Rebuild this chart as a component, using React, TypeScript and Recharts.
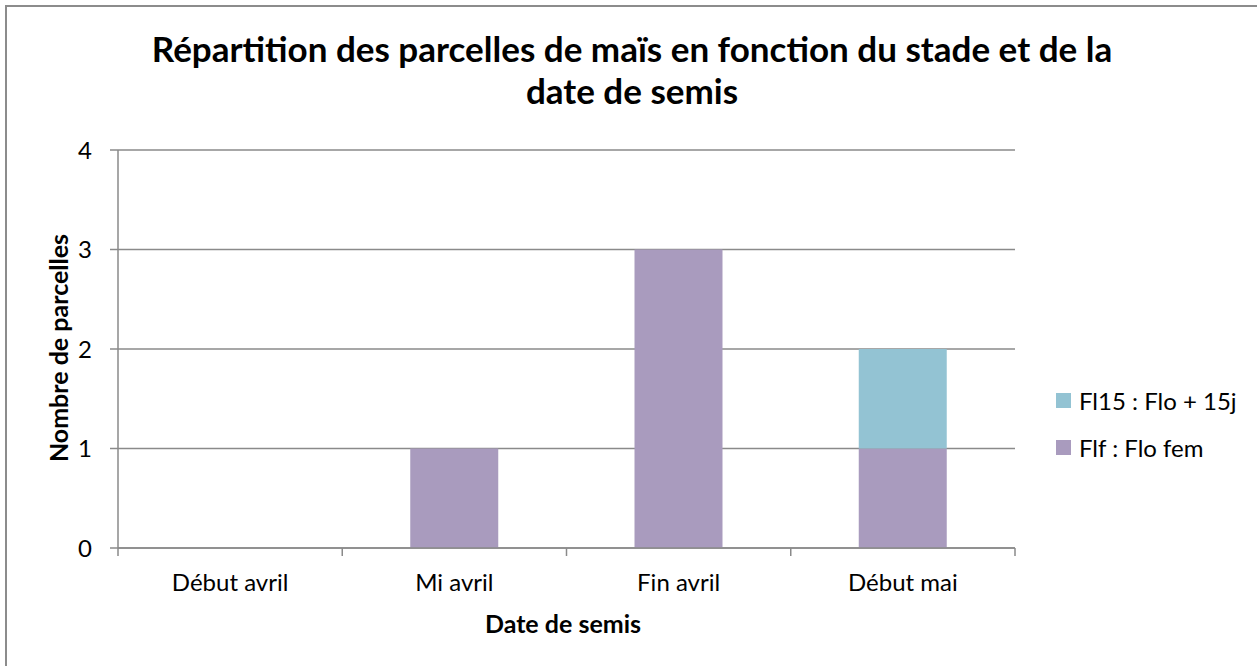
import { BarChart, Bar, XAxis, YAxis, CartesianGrid } from "recharts";

const categories = ["Début avril", "Mi avril", "Fin avril", "Début mai"];
const flfValues = [0, 1, 3, 1];
const fl15Values = [0, 0, 0, 1];
const yTicks = [0, 1, 2, 3, 4];

const SERIES = [
  { key: "fl15", name: "Fl15 : Flo + 15j", color: "#93C3D3" },
  { key: "flf", name: "Flf : Flo fem", color: "#A99BBE" },
];

const W = 1257;
const H = 666;
const PLOT_LEFT = 118;
const PLOT_RIGHT = 1015;
const PLOT_TOP = 150;
const PLOT_BOTTOM = 548;
const BAND = (PLOT_RIGHT - PLOT_LEFT) / categories.length;
const GREY = "#8a8a8a";
const FONT = "Lato, 'Open Sans', sans-serif";

const data = categories.map((c, i) => ({
  name: c,
  flf: flfValues[i],
  fl15: fl15Values[i],
}));

function XTick(props: any) {
  const { x, y, payload, index } = props;
  const half = BAND / 2;
  return (
    <g>
      <line x1={x - half} x2={x - half} y1={y} y2={y + 8} stroke={GREY} strokeWidth={1.5} />
      {index === categories.length - 1 && (
        <line x1={x + half} x2={x + half} y1={y} y2={y + 8} stroke={GREY} strokeWidth={1.5} />
      )}
      <text x={x} y={y + 43} textAnchor="middle" fontSize={24} fontFamily={FONT} fill="#000">
        {payload.value}
      </text>
    </g>
  );
}

export default function App() {
  return (
    <div
      style={{
        position: "absolute",
        left: 0,
        top: 0,
        width: W,
        height: H,
        overflow: "hidden",
        background: "#fff",
        fontFamily: FONT,
      }}
    >
      <div
        style={{
          position: "absolute",
          left: 5,
          top: 5,
          width: W + 50,
          height: H + 50,
          border: "2px solid #8c8c8c",
        }}
      />
      <div
        style={{
          position: "absolute",
          left: 0,
          top: 27,
          width: 1264,
          textAlign: "center",
          fontWeight: 700,
          fontSize: 35,
          lineHeight: "42px",
          color: "#000",
        }}
      >
        Répartition des parcelles de maïs en fonction du stade et de la
        <br />
        date de semis
      </div>

      <BarChart
        width={W}
        height={H}
        data={data}
        margin={{ top: PLOT_TOP, left: PLOT_LEFT - 60, right: W - PLOT_RIGHT, bottom: H - PLOT_BOTTOM - 30 }}
        style={{ position: "absolute", left: 0, top: 0 }}
      >
        <CartesianGrid vertical={false} stroke={GREY} strokeWidth={1.5} />
        <XAxis
          dataKey="name"
          height={30}
          stroke={GREY}
          strokeWidth={1.5}
          tickLine={false}
          tickSize={0}
          tickMargin={0}
          interval={0}
          tick={<XTick />}
        />
        <YAxis
          width={60}
          domain={[0, 4]}
          ticks={yTicks}
          stroke={GREY}
          strokeWidth={1.5}
          tickSize={8}
          tickMargin={18}
          tick={{ fill: "#000", fontSize: 24, fontFamily: FONT }}
        />
        <Bar dataKey="flf" stackId="a" fill="#A99BBE" barSize={88} isAnimationActive={false} />
        <Bar dataKey="fl15" stackId="a" fill="#93C3D3" barSize={88} isAnimationActive={false} />
      </BarChart>

      <div
        style={{
          position: "absolute",
          left: 58,
          top: 348,
          transform: "translate(-50%, -50%) rotate(-90deg)",
          whiteSpace: "nowrap",
          fontWeight: 700,
          fontSize: 25,
        }}
      >
        Nombre de parcelles
      </div>
      <div
        style={{
          position: "absolute",
          left: 563,
          top: 623,
          transform: "translate(-50%, -50%)",
          whiteSpace: "nowrap",
          fontWeight: 700,
          fontSize: 25,
        }}
      >
        Date de semis
      </div>

      <div style={{ position: "absolute", left: 1056, top: 386 }}>
        {SERIES.map((s) => (
          <div
            key={s.key}
            style={{ display: "flex", alignItems: "center", height: 28, marginBottom: 19, fontSize: 24 }}
          >
            <span style={{ display: "inline-block", width: 15, height: 15, background: s.color, marginRight: 8 }} />
            <span>{s.name}</span>
          </div>
        ))}
      </div>
    </div>
  );
}
